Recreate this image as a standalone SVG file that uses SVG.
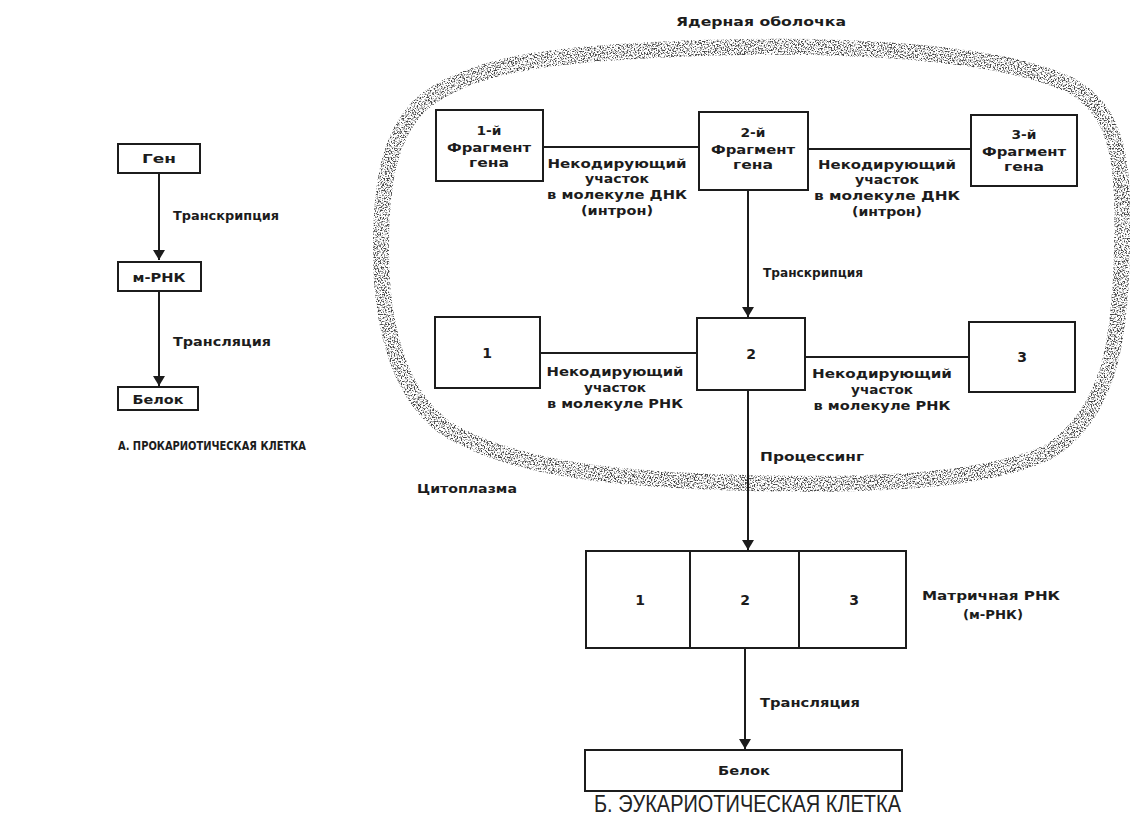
<svg xmlns="http://www.w3.org/2000/svg" width="1130" height="816" viewBox="0 0 1130 816">
<style>
.box{fill:#fff;stroke:#1c1c1c;stroke-width:2}
.ln{stroke:#1c1c1c;stroke-width:2;fill:none}
.t{font-family:"DejaVu Sans","Liberation Sans",sans-serif;font-weight:bold;font-size:13px;fill:#1c1c1c}
.n{font-family:"DejaVu Sans","Liberation Sans",sans-serif;font-weight:bold;font-size:14px;fill:#1c1c1c;text-anchor:middle}
.c{text-anchor:middle}
.cap{font-family:"Liberation Sans",Arial,sans-serif;font-size:24px;fill:#222}
</style>
<defs>
<marker id="ah" viewBox="0 0 10 14" refX="10" refY="7" markerWidth="10" markerHeight="14" markerUnits="userSpaceOnUse" orient="auto">
<path d="M0,1 L10,7 L0,13 Z" fill="#1c1c1c"/>
</marker>
<filter id="stip" x="-5%" y="-10%" width="110%" height="120%">
<feTurbulence type="fractalNoise" baseFrequency="0.7" numOctaves="2" seed="7" result="n"/>
<feColorMatrix in="n" type="matrix" values="0 0 0 0 0 0 0 0 0 0 0 0 0 0 0 5 0 0 0 -2.35" result="m"/>
<feComposite in="SourceGraphic" in2="m" operator="in"/>
</filter>
</defs>
<rect width="1130" height="816" fill="#fff"/>

<g id="nuclear-envelope">
<path d="M420,105 C470,62 560,53 700,48 C850,43 1000,52 1070,85 C1120,112 1124,165 1122,250 C1120,340 1110,410 1052,450 C990,482 870,486 750,483 C620,480 520,470 452,432 C402,402 381,332 381,250 C381,180 390,136 420,105 Z" fill="none" stroke="#444" stroke-width="16" filter="url(#stip)"/>
</g>

<g id="connectors">
<line class="ln" x1="159" y1="173" x2="159" y2="260" marker-end="url(#ah)"/>
<line class="ln" x1="159" y1="292" x2="159" y2="386" marker-end="url(#ah)"/>
<line class="ln" x1="543" y1="147" x2="699" y2="147"/>
<line class="ln" x1="808" y1="149" x2="971" y2="149"/>
<line class="ln" x1="748" y1="190" x2="748" y2="317" marker-end="url(#ah)"/>
<line class="ln" x1="540" y1="353" x2="697" y2="353"/>
<line class="ln" x1="805" y1="357" x2="969" y2="357"/>
<line class="ln" x1="748" y1="390" x2="748" y2="550" marker-end="url(#ah)"/>
<line class="ln" x1="745" y1="648" x2="745" y2="749" marker-end="url(#ah)"/>
</g>

<g id="gene">
<rect class="box" x="118" y="144" width="82" height="29"/>
<text class="t c" x="159" y="163" textLength="34" lengthAdjust="spacingAndGlyphs">Ген</text>
</g>
<text class="t" x="173" y="220" textLength="106" lengthAdjust="spacingAndGlyphs">Транскрипция</text>
<g id="mrna-pro">
<rect class="box" x="118" y="262" width="83" height="29"/>
<text class="t c" x="159" y="282" textLength="53" lengthAdjust="spacingAndGlyphs">м-РНК</text>
</g>
<text class="t" x="173" y="346" textLength="98" lengthAdjust="spacingAndGlyphs">Трансляция</text>
<g id="protein-pro">
<rect class="box" x="118" y="387" width="80" height="23"/>
<text class="t c" x="158" y="404" textLength="51" lengthAdjust="spacingAndGlyphs">Белок</text>
</g>
<text class="t" x="118" y="450" font-size="12" textLength="188" lengthAdjust="spacingAndGlyphs">А. ПРОКАРИОТИЧЕСКАЯ КЛЕТКА</text>

<text class="t c" x="761" y="26" textLength="170" lengthAdjust="spacingAndGlyphs">Ядерная оболочка</text>

<g id="fragment1">
<rect class="box" x="436" y="110" width="107" height="71"/>
<text class="t c" x="489" y="135" textLength="25" lengthAdjust="spacingAndGlyphs">1-й</text>
<text class="t c" x="489" y="152" textLength="84" lengthAdjust="spacingAndGlyphs">Фрагмент</text>
<text class="t c" x="489" y="167" textLength="40" lengthAdjust="spacingAndGlyphs">гена</text>
</g>
<g id="fragment2">
<rect class="box" x="699" y="112" width="109" height="78"/>
<text class="t c" x="753" y="137" textLength="25" lengthAdjust="spacingAndGlyphs">2-й</text>
<text class="t c" x="753" y="154" textLength="84" lengthAdjust="spacingAndGlyphs">Фрагмент</text>
<text class="t c" x="753" y="169" textLength="40" lengthAdjust="spacingAndGlyphs">гена</text>
</g>
<g id="fragment3">
<rect class="box" x="971" y="115" width="106" height="71"/>
<text class="t c" x="1024" y="139" textLength="25" lengthAdjust="spacingAndGlyphs">3-й</text>
<text class="t c" x="1024" y="156" textLength="84" lengthAdjust="spacingAndGlyphs">Фрагмент</text>
<text class="t c" x="1024" y="171" textLength="40" lengthAdjust="spacingAndGlyphs">гена</text>
</g>

<g id="intron1-label">
<text class="t c" x="617" y="168" textLength="139" lengthAdjust="spacingAndGlyphs">Некодирующий</text>
<text class="t c" x="617" y="183" textLength="64" lengthAdjust="spacingAndGlyphs">участок</text>
<text class="t c" x="617" y="199" textLength="140" lengthAdjust="spacingAndGlyphs">в молекуле ДНК</text>
<text class="t c" x="617" y="215" textLength="72" lengthAdjust="spacingAndGlyphs">(интрон)</text>
</g>
<g id="intron2-label">
<text class="t c" x="887" y="169" textLength="138" lengthAdjust="spacingAndGlyphs">Некодирующий</text>
<text class="t c" x="887" y="184" textLength="64" lengthAdjust="spacingAndGlyphs">участок</text>
<text class="t c" x="887" y="200" textLength="146" lengthAdjust="spacingAndGlyphs">в молекуле ДНК</text>
<text class="t c" x="887" y="216" textLength="70" lengthAdjust="spacingAndGlyphs">(интрон)</text>
</g>
<text class="t" x="763" y="277" textLength="100" lengthAdjust="spacingAndGlyphs">Транскрипция</text>

<g id="rna1">
<rect class="box" x="435" y="317" width="105" height="71"/>
<text class="n" x="487" y="358">1</text>
</g>
<g id="rna2">
<rect class="box" x="697" y="318" width="108" height="72"/>
<text class="n" x="751" y="359">2</text>
</g>
<g id="rna3">
<rect class="box" x="969" y="322" width="106" height="70"/>
<text class="n" x="1022" y="362">3</text>
</g>
<g id="rna-intron1-label">
<text class="t c" x="615" y="376" textLength="137" lengthAdjust="spacingAndGlyphs">Некодирующий</text>
<text class="t c" x="615" y="392" textLength="62" lengthAdjust="spacingAndGlyphs">участок</text>
<text class="t c" x="615" y="408" textLength="136" lengthAdjust="spacingAndGlyphs">в молекуле РНК</text>
</g>
<g id="rna-intron2-label">
<text class="t c" x="882" y="378" textLength="140" lengthAdjust="spacingAndGlyphs">Некодирующий</text>
<text class="t c" x="882" y="394" textLength="62" lengthAdjust="spacingAndGlyphs">участок</text>
<text class="t c" x="882" y="410" textLength="137" lengthAdjust="spacingAndGlyphs">в молекуле РНК</text>
</g>
<text class="t" x="760" y="461" textLength="104" lengthAdjust="spacingAndGlyphs">Процессинг</text>
<text class="t" x="417" y="493" textLength="100" lengthAdjust="spacingAndGlyphs">Цитоплазма</text>

<g id="mrna-euk">
<rect class="box" x="586" y="551" width="320" height="97"/>
<line class="ln" x1="690" y1="551" x2="690" y2="648"/>
<line class="ln" x1="799" y1="551" x2="799" y2="648"/>
<text class="n" x="640" y="605">1</text>
<text class="n" x="745" y="605">2</text>
<text class="n" x="854" y="605">3</text>
</g>
<text class="t c" x="991" y="600" textLength="138" lengthAdjust="spacingAndGlyphs">Матричная РНК</text>
<text class="t c" x="993" y="619" textLength="60" lengthAdjust="spacingAndGlyphs">(м-РНК)</text>
<text class="t" x="760" y="707" textLength="100" lengthAdjust="spacingAndGlyphs">Трансляция</text>
<g id="protein-euk">
<rect class="box" x="585" y="750" width="317" height="41"/>
<text class="t c" x="744" y="775" textLength="52" lengthAdjust="spacingAndGlyphs">Белок</text>
</g>
<text class="cap" x="594" y="812" textLength="307" lengthAdjust="spacingAndGlyphs">Б. ЭУКАРИОТИЧЕСКАЯ КЛЕТКА</text>
</svg>
